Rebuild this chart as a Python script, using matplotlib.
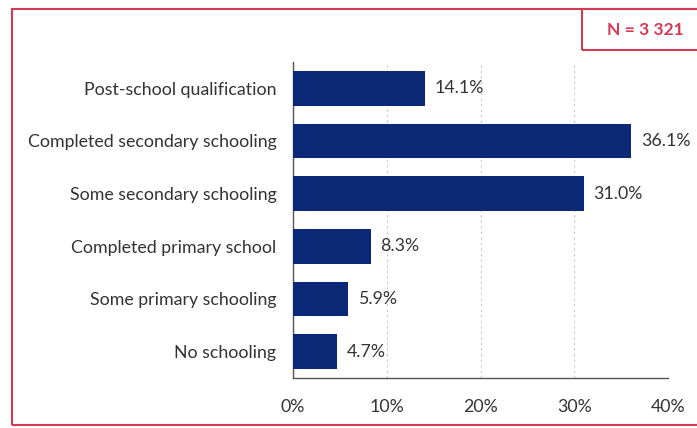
import matplotlib.pyplot as plt
from matplotlib.patches import Rectangle

categories = [
    "Post-school qualification",
    "Completed secondary schooling",
    "Some secondary schooling",
    "Completed primary school",
    "Some primary schooling",
    "No schooling",
]
values = [14.1, 36.1, 31.0, 8.3, 5.9, 4.7]
xticks = [0, 10, 20, 30, 40]
xtick_labels = ["0%", "10%", "20%", "30%", "40%"]
sample_note = "N = 3 321"

W, H = 697, 428
fig = plt.figure(figsize=(W / 100, H / 100), dpi=100)
fig.patch.set_facecolor("white")

red = "#d23a55"
navy = "#0b2876"
text_col = "#333333"
font = "Lato"

# outer frame (runs off the right edge)
fig.add_artist(Rectangle((12 / W, 1 - 425 / H), 700 / W, (425 - 9) / H,
                         transform=fig.transFigure, fill=False,
                         edgecolor=red, linewidth=1.5))
# sample size box
fig.add_artist(Rectangle((582 / W, 1 - 50 / H), 130 / W, (50 - 9) / H,
                         transform=fig.transFigure, fill=False,
                         edgecolor=red, linewidth=1.5))
fig.text(645 / W, 1 - 30 / H, sample_note, ha="center", va="center",
         color=red, fontsize=12.5, fontweight="bold", family=font)

ax = fig.add_axes([293 / W, 1 - 378 / H, (668 - 293) / W, (378 - 62) / H])
y = list(range(len(categories)))
ax.barh(y, values, height=0.66, color=navy, zorder=3)
ax.set_ylim(len(categories) - 0.5, -0.5)
ax.set_xlim(0, 40)

for yi, v in zip(y, values):
    ax.text(v + 1.0, yi, f"{v:.1f}%", va="center", ha="left",
            fontsize=12.8, color=text_col, family=font)

ax.set_yticks(y)
ax.set_yticklabels(categories, fontsize=12.8, color=text_col, family=font)
ax.set_xticks(xticks)
ax.set_xticklabels(xtick_labels, fontsize=12.8, color=text_col, family=font)
ax.tick_params(axis="both", length=0)
ax.tick_params(axis="y", pad=12)
ax.tick_params(axis="x", pad=15)

ax.xaxis.grid(True, linestyle=(0, (2, 3)), color="#c8c8c8", linewidth=0.8, zorder=0)
for s in ["top", "right"]:
    ax.spines[s].set_visible(False)
ax.spines["left"].set_color("#555555")
ax.spines["bottom"].set_color("#555555")
ax.spines["left"].set_linewidth(1.0)
ax.spines["bottom"].set_linewidth(1.0)

fig.savefig("out.png", dpi=100)
